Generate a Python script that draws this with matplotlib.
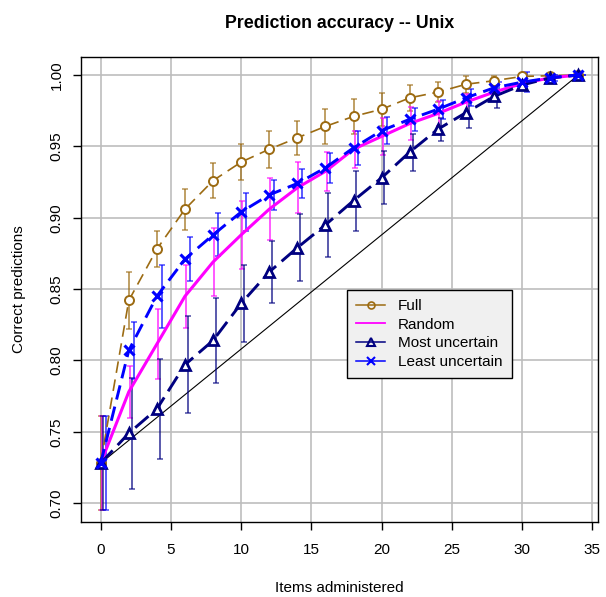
import matplotlib
matplotlib.use("Agg")
import matplotlib.pyplot as plt
from matplotlib.lines import Line2D

plt.rcParams["font.family"] = ["Liberation Sans", "DejaVu Sans"]

# Data
items = [0, 2, 4, 6, 8, 10, 12, 14, 16, 18, 20, 22, 24, 26, 28, 30, 32, 34]

full = [0.728, 0.842, 0.878, 0.906, 0.926, 0.939, 0.948, 0.956, 0.964, 0.971,
        0.976, 0.984, 0.988, 0.9935, 0.996, 0.999, 0.9995, 1.0]
full_err = [0.033, 0.020, 0.0125, 0.0143, 0.012, 0.0125, 0.013, 0.012, 0.012,
            0.0125, 0.0115, 0.009, 0.007, 0.006, 0.003, 0.002, 0.001, 0.0]

random_ = [0.728, 0.778, 0.8115, 0.845, 0.869, 0.888, 0.906, 0.921, 0.9325,
           0.948, 0.957, 0.966, 0.973, 0.981, 0.988, 0.994, 0.998, 1.0]
random_err = [0.033, 0.018, 0.0245, 0.022, 0.024, 0.024, 0.0215, 0.018, 0.0135,
              0.013, 0.013, 0.0115, 0.009, 0.006, 0.004, 0.003, 0.001, 0.0]

most = [0.728, 0.749, 0.766, 0.797, 0.814, 0.840, 0.862, 0.879, 0.895, 0.912,
        0.928, 0.946, 0.962, 0.9736, 0.985, 0.993, 0.998, 1.0]
most_err = [0.033, 0.039, 0.035, 0.034, 0.030, 0.027, 0.0215, 0.0235, 0.0225,
            0.021, 0.0185, 0.013, 0.008, 0.0105, 0.008, 0.003, 0.001, 0.0]

least = [0.728, 0.807, 0.845, 0.871, 0.888, 0.904, 0.916, 0.924, 0.935, 0.949,
         0.961, 0.969, 0.976, 0.984, 0.991, 0.995, 0.998, 1.0]
least_err = [0.033, 0.020, 0.022, 0.0155, 0.015, 0.013, 0.0105, 0.010, 0.0105,
             0.012, 0.0095, 0.008, 0.0067, 0.006, 0.004, 0.007, 0.002, 0.0]

x_ticks = [0, 5, 10, 15, 20, 25, 30, 35]
y_ticks = [0.70, 0.75, 0.80, 0.85, 0.90, 0.95, 1.00]

c_full = "#9C6B12"
c_random = "#FF00FF"
c_most = "#000080"
c_least = "#0000FF"

fig = plt.figure(figsize=(6.06, 5.97), dpi=100, facecolor="white")
ax = fig.add_axes([0.1337, 0.1261, 0.8531, 0.7784])

ax.grid(True, color="#bdbdbd", linewidth=1.2, zorder=0)
ax.set_axisbelow(True)

# diagonal reference line
ax.plot([items[0], items[-1]], [full[0], full[-1]], color="black",
        linewidth=0.8, zorder=1)

series = [
    (full, full_err, c_full, 0.0),
    (random_, random_err, c_random, 0.08),
    (most, most_err, c_most, 0.2),
    (least, least_err, c_least, 0.35),
]
for vals, err, col, off in series:
    ax.errorbar([i + off for i in items], vals, yerr=err, fmt="none",
                ecolor=col, alpha=0.65, elinewidth=1.4, capsize=2.5,
                capthick=1.2, zorder=2)

ax.plot(items, full, color=c_full, linestyle=(0, (7, 4)), linewidth=1.2,
        marker="o", markersize=6.5, markerfacecolor="white",
        markeredgewidth=1.4, zorder=3)
ax.plot(items, random_, color=c_random, linewidth=2.2, zorder=3)
ax.plot(items, most, color=c_most, linestyle=(0, (6, 2.5)), linewidth=2.1,
        marker="^", markersize=7.5, markerfacecolor="white",
        markeredgewidth=2, zorder=4)
ax.plot(items, least, color=c_least, linestyle=(0, (5, 2.5)), linewidth=2.1,
        marker="x", markersize=6.5, markeredgewidth=2.2, zorder=4)

ax.set_xlim(-1.4, 35.4)
ax.set_ylim(0.687, 1.0126)
ax.set_xticks(x_ticks)
ax.set_yticks(y_ticks)
ax.set_yticklabels([f"{v:.2f}" for v in y_ticks], rotation=90, va="center")
ax.tick_params(axis="both", direction="out", length=5.5, width=1,
               labelsize=11, colors="black")
ax.tick_params(axis="x", pad=10)
ax.tick_params(axis="y", pad=7)
for s in ax.spines.values():
    s.set_color("black")
    s.set_linewidth(1)

ax.set_xlabel("Items administered", fontsize=11, labelpad=17)
ax.set_ylabel("Correct predictions", fontsize=11, labelpad=17)
ax.set_title("Prediction accuracy -- Unix", fontsize=12.8, fontweight="bold",
             pad=21)

# legend keys are drawn thin, like the original
handles = [
    Line2D([], [], color=c_full, linewidth=1.1, marker="o", markersize=5,
           markerfacecolor="none", markeredgewidth=1.2),
    Line2D([], [], color=c_random, linewidth=1.3),
    Line2D([], [], color=c_most, linewidth=1.1, marker="^", markersize=6,
           markerfacecolor="none", markeredgewidth=1.5),
    Line2D([], [], color=c_least, linewidth=1.1, marker="x", markersize=5.5,
           markeredgewidth=1.5),
]
labels = ["Full", "Random", "Most uncertain", "Least uncertain"]
leg = ax.legend(handles, labels, loc="upper left",
                bbox_to_anchor=(0.5145, 0.4986), borderaxespad=0,
                fancybox=False, framealpha=1, facecolor="#f0f0f0",
                edgecolor="black", fontsize=11, handlelength=1.9,
                handletextpad=0.85, labelspacing=0.3, borderpad=0.6)
leg.get_frame().set_linewidth(1)

fig.savefig("out.png", dpi=100, facecolor="white")
